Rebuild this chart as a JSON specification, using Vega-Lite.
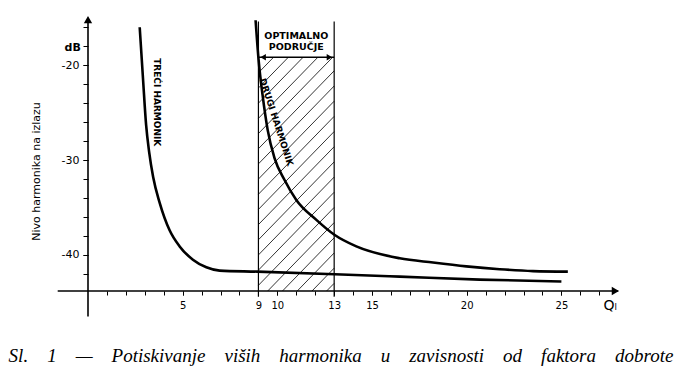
{
  "$schema": "https://vega.github.io/schema/vega-lite/v6.json",
  "autosize": {"type": "none"},
  "padding": {"left": 88, "top": 14, "right": 58, "bottom": 77},
  "width": 534,
  "height": 277,
  "background": "white",
  "config": {"view": {"stroke": null}, "axis": {"grid": false, "labelOverlap": false}},
  "title": {
    "text": "Sl.\u00a0\u00a0\u00a0 1\u00a0\u00a0\u00a0 —\u00a0\u00a0\u00a0 Potiskivanje\u00a0\u00a0\u00a0 viših\u00a0\u00a0\u00a0 harmonika\u00a0\u00a0\u00a0 u\u00a0\u00a0\u00a0 zavisnosti\u00a0\u00a0\u00a0 od\u00a0\u00a0\u00a0 faktora\u00a0\u00a0\u00a0 dobrote",
    "orient": "bottom",
    "anchor": "middle",
    "dx": -14,
    "offset": 30,
    "font": "Liberation Serif",
    "fontStyle": "italic",
    "fontWeight": "normal",
    "fontSize": 19,
    "color": "black"
  },
  "datasets": {
    "curves": [
      {"series": "treci", "Q": 2.73, "dB": -16.0},
      {"series": "treci", "Q": 2.91, "dB": -21.58},
      {"series": "treci", "Q": 3.07, "dB": -26.32},
      {"series": "treci", "Q": 3.23, "dB": -29.16},
      {"series": "treci", "Q": 3.44, "dB": -31.79},
      {"series": "treci", "Q": 3.79, "dB": -34.53},
      {"series": "treci", "Q": 4.31, "dB": -37.4},
      {"series": "treci", "Q": 4.84, "dB": -39.1},
      {"series": "treci", "Q": 5.54, "dB": -40.5},
      {"series": "treci", "Q": 6.25, "dB": -41.3},
      {"series": "treci", "Q": 6.95, "dB": -41.65},
      {"series": "treci", "Q": 8.94, "dB": -41.76},
      {"series": "treci", "Q": 13.03, "dB": -42.03},
      {"series": "treci", "Q": 16.46, "dB": -42.28},
      {"series": "treci", "Q": 20.68, "dB": -42.6},
      {"series": "treci", "Q": 25.0, "dB": -42.8},
      {"series": "drugi", "Q": 8.85, "dB": -15.26},
      {"series": "drugi", "Q": 9.01, "dB": -19.47},
      {"series": "drugi", "Q": 9.22, "dB": -23.16},
      {"series": "drugi", "Q": 9.49, "dB": -26.84},
      {"series": "drugi", "Q": 9.85, "dB": -29.79},
      {"series": "drugi", "Q": 10.38, "dB": -32.1},
      {"series": "drugi", "Q": 11.0, "dB": -34.2},
      {"series": "drugi", "Q": 12.06, "dB": -36.3},
      {"series": "drugi", "Q": 13.03, "dB": -37.9},
      {"series": "drugi", "Q": 14.17, "dB": -39.1},
      {"series": "drugi", "Q": 16.46, "dB": -40.35},
      {"series": "drugi", "Q": 18.22, "dB": -40.8},
      {"series": "drugi", "Q": 19.98, "dB": -41.2},
      {"series": "drugi", "Q": 21.74, "dB": -41.5},
      {"series": "drugi", "Q": 23.5, "dB": -41.7},
      {"series": "drugi", "Q": 25.34, "dB": -41.76}
    ],
    "hatch": [
      {"Q": 9, "dB": -20.8, "Q2": 9.78, "dB2": -19.2},
      {"Q": 9, "dB": -22.4, "Q2": 10.56, "dB2": -19.2},
      {"Q": 9, "dB": -24.0, "Q2": 11.34, "dB2": -19.2},
      {"Q": 9, "dB": -25.6, "Q2": 12.12, "dB2": -19.2},
      {"Q": 9, "dB": -27.2, "Q2": 12.9, "dB2": -19.2},
      {"Q": 9, "dB": -28.8, "Q2": 13, "dB2": -20.59},
      {"Q": 9, "dB": -30.4, "Q2": 13, "dB2": -22.19},
      {"Q": 9, "dB": -32.0, "Q2": 13, "dB2": -23.79},
      {"Q": 9, "dB": -33.6, "Q2": 13, "dB2": -25.39},
      {"Q": 9, "dB": -35.2, "Q2": 13, "dB2": -26.99},
      {"Q": 9, "dB": -36.8, "Q2": 13, "dB2": -28.59},
      {"Q": 9, "dB": -38.4, "Q2": 13, "dB2": -30.19},
      {"Q": 9, "dB": -40.0, "Q2": 13, "dB2": -31.79},
      {"Q": 9, "dB": -41.6, "Q2": 13, "dB2": -33.39},
      {"Q": 9, "dB": -43.2, "Q2": 13, "dB2": -34.99},
      {"Q": 9.49, "dB": -43.8, "Q2": 13, "dB2": -36.59},
      {"Q": 10.27, "dB": -43.8, "Q2": 13, "dB2": -38.19},
      {"Q": 11.05, "dB": -43.8, "Q2": 13, "dB2": -39.79},
      {"Q": 11.83, "dB": -43.8, "Q2": 13, "dB2": -41.39},
      {"Q": 12.6, "dB": -43.8, "Q2": 13, "dB2": -42.99}
    ],
    "segments": [
      {"name": "xaxis", "Q": -1.6, "dB": -43.8, "Q2": 28.0, "dB2": -43.8, "w": 1.6},
      {"name": "yaxis", "Q": 0, "dB": -46.5, "Q2": 0, "dB2": -15.0, "w": 1.6},
      {"name": "left9", "Q": 9, "dB": -44.4, "Q2": 9, "dB2": -15.4, "w": 1.2},
      {"name": "right13", "Q": 13, "dB": -44.4, "Q2": 13, "dB2": -15.4, "w": 1.2},
      {"name": "arrow", "Q": 9, "dB": -19.16, "Q2": 13, "dB2": -19.16, "w": 1.6}
    ],
    "heads": [
      {"Q": 0, "dB": -15.2, "shape": "triangle-up", "s": 70},
      {"Q": 27.85, "dB": -43.8, "shape": "triangle-right", "s": 70},
      {"Q": 9.25, "dB": -19.16, "shape": "triangle-left", "s": 40},
      {"Q": 12.75, "dB": -19.16, "shape": "triangle-right", "s": 40}
    ],
    "labels": [
      {"Q": 3.63, "dB": -23.9, "text": "TREĆI HARMONIK", "angle": 90},
      {"Q": 9.95, "dB": -26.0, "text": "DRUGI HARMONIK", "angle": 72}
    ]
  },
  "resolve": {"axis": {"x": "independent", "y": "independent"}},
  "layer": [
    {
      "data": {"name": "hatch"},
      "mark": {"type": "rule", "color": "black", "strokeWidth": 0.8, "clip": false},
      "encoding": {
        "x": {
          "field": "Q", "type": "quantitative",
          "scale": {"domain": [0, 28.2], "nice": false, "zero": false},
          "axis": {
            "orient": "bottom", "domain": false, "labels": false, "title": null,
            "values": [1,2,3,4,5,6,7,8,9,10,11,12,13,14,15,16,17,18,19,20,21,22,23,24,25,26,27],
            "tickSize": 4, "tickColor": "black", "tickWidth": 1
          }
        },
        "y": {
          "field": "dB", "type": "quantitative",
          "scale": {"domain": [-43.8, -14.6], "nice": false, "zero": false},
          "axis": {
            "orient": "left", "domain": false, "labels": false, "title": null,
            "values": [-42,-40,-38,-36,-34,-32,-30,-28,-26,-24,-22,-20,-18,-16],
            "tickSize": 5, "tickColor": "black", "tickWidth": 1
          }
        },
        "x2": {"field": "Q2"},
        "y2": {"field": "dB2"}
      }
    },
    {
      "data": {"name": "segments"},
      "mark": {"type": "rule", "color": "black", "clip": false},
      "encoding": {
        "x": {
          "field": "Q", "type": "quantitative",
          "axis": {
            "orient": "bottom", "domain": false,
            "values": [5, 9, 10, 13, 15, 20, 25],
            "tickSize": 4, "tickColor": "black", "tickWidth": 1,
            "labelFont": "DejaVu Sans", "labelFontSize": 10, "labelColor": "black", "labelPadding": 5,
            "title": "Qₗ", "titleFont": "DejaVu Sans", "titleFontSize": 14, "titleFontWeight": "normal", "titleColor": "black",
            "titleX": 515, "titleY": 14, "titleAlign": "left", "titleBaseline": "middle"
          }
        },
        "y": {
          "field": "dB", "type": "quantitative",
          "axis": {
            "orient": "left", "domain": false,
            "values": [-40, -30, -20],
            "labelExpr": "'-' + abs(datum.value)",
            "tickSize": 5, "tickColor": "black", "tickWidth": 1,
            "labelFont": "DejaVu Sans", "labelFontSize": 11, "labelColor": "black", "labelPadding": 4,
            "title": "Nivo harmonika na izlazu", "titleFont": "DejaVu Sans", "titleFontSize": 11, "titleFontWeight": "normal", "titleColor": "black",
            "titleX": -52, "titleY": 157, "titleAngle": -90, "titleAlign": "center", "titleBaseline": "middle"
          }
        },
        "x2": {"field": "Q2"},
        "y2": {"field": "dB2"},
        "strokeWidth": {"field": "w", "type": "quantitative", "scale": null}
      }
    },
    {
      "data": {"name": "heads"},
      "mark": {"type": "point", "filled": true, "color": "black", "opacity": 1, "clip": false},
      "encoding": {
        "x": {"field": "Q", "type": "quantitative", "axis": null},
        "y": {"field": "dB", "type": "quantitative", "axis": null},
        "shape": {"field": "shape", "type": "nominal", "scale": null},
        "size": {"field": "s", "type": "quantitative", "scale": null}
      }
    },
    {
      "data": {"name": "curves"},
      "mark": {"type": "line", "color": "black", "strokeWidth": 2.6, "interpolate": "monotone", "clip": false},
      "encoding": {
        "x": {"field": "Q", "type": "quantitative", "axis": null},
        "y": {"field": "dB", "type": "quantitative", "axis": null},
        "detail": {"field": "series", "type": "nominal"}
      }
    },
    {
      "data": {"name": "labels"},
      "mark": {"type": "text", "font": "DejaVu Sans", "fontWeight": "bold", "fontSize": 9, "color": "black", "align": "center", "baseline": "middle", "clip": false},
      "encoding": {
        "x": {"field": "Q", "type": "quantitative", "axis": null},
        "y": {"field": "dB", "type": "quantitative", "axis": null},
        "text": {"field": "text"},
        "angle": {"field": "angle", "type": "quantitative", "scale": null}
      }
    },
    {
      "data": {"values": [{"Q": 11, "dB": -16.9, "text": ["OPTIMALNO", "PODRUČJE"]}]},
      "mark": {"type": "text", "font": "DejaVu Sans", "fontWeight": "bold", "fontSize": 9.5, "lineHeight": 11, "color": "black", "align": "center", "baseline": "middle", "clip": false},
      "encoding": {
        "x": {"field": "Q", "type": "quantitative", "axis": null},
        "y": {"field": "dB", "type": "quantitative", "axis": null},
        "text": {"field": "text"}
      }
    },
    {
      "data": {"values": [{"Q": -0.81, "dB": -18.2, "text": "dB"}]},
      "mark": {"type": "text", "font": "DejaVu Sans", "fontWeight": "bold", "fontSize": 11, "color": "black", "align": "center", "baseline": "middle", "clip": false},
      "encoding": {
        "x": {"field": "Q", "type": "quantitative", "axis": null},
        "y": {"field": "dB", "type": "quantitative", "axis": null},
        "text": {"field": "text"}
      }
    }
  ]
}
